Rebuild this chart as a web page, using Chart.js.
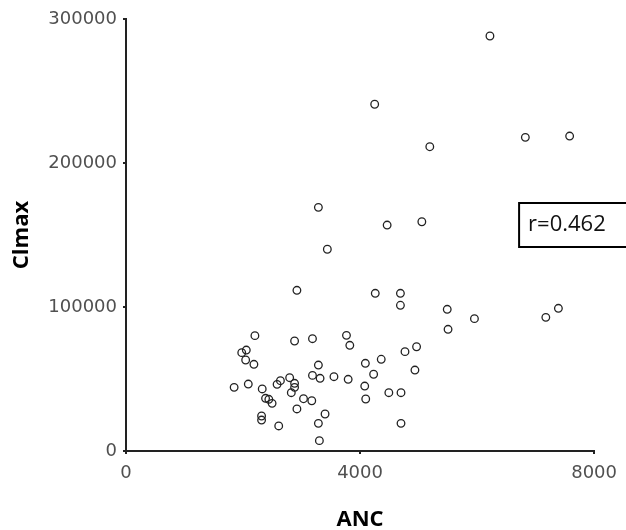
<!DOCTYPE html>
<html>
<head>
<meta charset="utf-8">
<script src="https://cdn.jsdelivr.net/npm/chart.js@4"></script>
<style>
  html, body { margin: 0; padding: 0; background: #fff; }
  #wrap { width: 626px; height: 530px; }
</style>
</head>
<body>
<div id="wrap"><canvas id="ch"></canvas></div>
<script>
// ANC vs Clmax scatter
const ancValues = [
  6220, 4250, 6825, 7582, 5192, 3288, 4463, 5056, 3441, 2921,
  4260, 4690, 4690, 5490, 5955, 5504, 7175, 7390, 3187, 3768,
  3825, 4966, 4768, 4362, 4091, 3288, 4232, 4938, 3187, 3317,
  3554, 3797, 4080, 4492, 4700, 4097, 3034, 3175, 3402, 3288,
  4700, 3305, 2203, 2881, 2056, 1978, 2045, 2186, 1848, 2090,
  2328, 2639, 2582, 2797, 2881, 2881, 2825, 2385, 2441, 2497,
  2921, 2317, 2317, 2610
];
const clmaxValues = [
  288200, 240800, 217800, 218700, 211300, 169200, 156900, 159200, 140100, 111600,
  109500, 109500, 101200, 98400, 91900, 84500, 92800, 99100, 78000, 80300,
  73400, 72400, 69000, 63700, 60900, 59700, 53300, 56200, 52500, 50500,
  51600, 49800, 45100, 40500, 40500, 36100, 36300, 34900, 25700, 19200,
  19200, 7200, 80100, 76400, 70100, 68300, 63200, 60200, 44200, 46500,
  43100, 48800, 46300, 50900, 47000, 44200, 40500, 36600, 35900, 33100,
  29200, 24300, 21500, 17400
];
const xTicks = [0, 4000, 8000];
const yTicks = [0, 100000, 200000, 300000];
const corrLabel = 'r=0.462';

const points = ancValues.map((x, i) => ({x, y: clmaxValues[i]}));

// correlation box, drawn relative to the plot area
const corrBox = {
  id: 'corrBox',
  afterDraw(chart) {
    const {ctx, chartArea: a} = chart;
    const left = a.right - 75, top = a.top + 184, h = 44;
    ctx.save();
    ctx.fillStyle = '#fff';
    ctx.strokeStyle = '#000';
    ctx.lineWidth = 2;
    ctx.fillRect(left, top, chart.width - left + 5, h);
    ctx.strokeRect(left, top, chart.width - left + 5, h);
    ctx.fillStyle = '#111';
    ctx.font = '22px "Open Sans"';
    ctx.textBaseline = 'middle';
    ctx.fillText(corrLabel, left + 9, top + h / 2);
    ctx.restore();
  }
};

const tickFont = {family: 'DejaVu Sans', size: 18};
const titleFont = {family: 'Open Sans', size: 22, weight: 'bold'};

new Chart(document.getElementById('ch'), {
  type: 'scatter',
  data: {
    datasets: [{
      data: points,
      pointRadius: 3.8,
      pointHoverRadius: 3.8,
      borderWidth: 1.3,
      borderColor: '#222',
      backgroundColor: 'rgba(0,0,0,0)'
    }]
  },
  options: {
    responsive: true,
    maintainAspectRatio: false,
    animation: false,
    layout: {padding: {top: 19, right: 28, bottom: 0, left: 0}},
    plugins: {legend: {display: false}, tooltip: {enabled: false}},
    scales: {
      x: {
        type: 'linear', min: 0, max: 8000,
        afterBuildTicks: s => { s.ticks = xTicks.map(v => ({value: v})); },
        afterFit: s => { s.height = 79; },
        grid: {drawOnChartArea: false, drawTicks: true, tickLength: 3, color: '#222', lineWidth: 2},
        border: {display: true, color: '#222', width: 2},
        ticks: {color: '#505050', font: tickFont, padding: 9, maxRotation: 0, callback: v => String(v)},
        title: {display: true, text: 'ANC', color: '#000', font: {...titleFont, lineHeight: '20px'}, padding: 0}
      },
      y: {
        type: 'linear', min: 0, max: 300000,
        afterBuildTicks: s => { s.ticks = yTicks.map(v => ({value: v})); },
        afterFit: s => { s.width = 126; },
        grid: {drawOnChartArea: false, drawTicks: true, tickLength: 3, color: '#222', lineWidth: 2},
        border: {display: true, color: '#222', width: 2},
        ticks: {color: '#505050', font: tickFont, padding: 6, callback: v => String(v)},
        title: {display: true, text: 'Clmax', color: '#000', font: titleFont, padding: {top: 9, bottom: 0}}
      }
    }
  },
  plugins: [corrBox]
});
</script>
</body>
</html>
